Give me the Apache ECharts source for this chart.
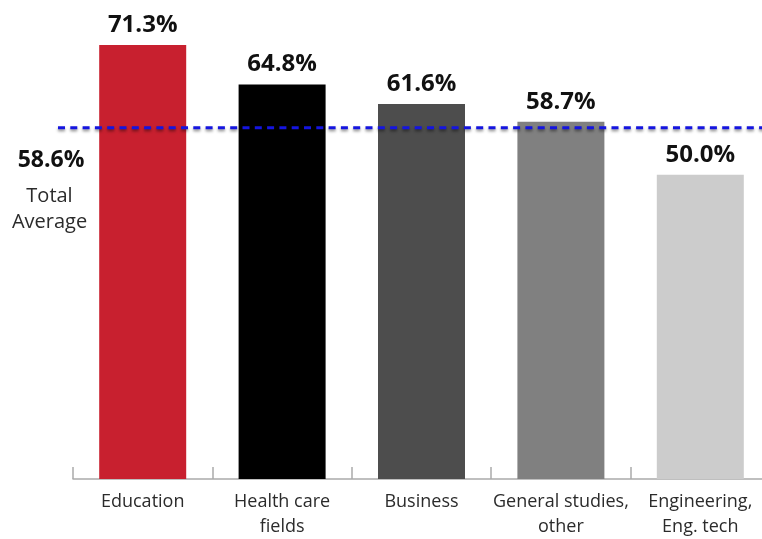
<!DOCTYPE html>
<html>
<head>
<meta charset="utf-8">
<script src="https://cdn.jsdelivr.net/npm/echarts@6/dist/echarts.min.js"></script>
<style>
  html, body { margin: 0; padding: 0; background: #ffffff; overflow: hidden; }
  #chart { width: 772px; height: 539px; }
</style>
</head>
<body>
<div id="chart"></div>
<script>
// ---- data ----
const categories = ['Education', 'Health care\nfields', 'Business', 'General studies,\nother', 'Engineering,\nEng. tech'];
const values = [71.3, 64.8, 61.6, 58.7, 50.0];
const barColors = ['#c8202f', '#000000', '#4d4d4d', '#808080', '#cccccc'];
const averageLabel = '58.6%';
const averageCaption = ['Total', 'Average'];
// level at which the dashed average line is drawn in the reference
const averageLineLevel = 57.7;

const chart = echarts.init(document.getElementById('chart'), null, { renderer: 'canvas' });

const fontFamily = '"Open Sans", "DejaVu Sans", sans-serif';

chart.setOption({
  animation: false,
  backgroundColor: '#ffffff',
  grid: { left: 73, right: 2, top: 22.5, bottom: 60, containLabel: false },
  xAxis: {
    type: 'category',
    data: categories,
    axisLine: { show: true, lineStyle: { color: '#aaaaaa', width: 1.5 } },
    axisTick: { show: true, inside: true, length: 12, lineStyle: { color: '#aaaaaa', width: 1.5 } },
    axisLabel: {
      interval: 0,
      margin: 10,
      color: '#2b2b2b',
      fontFamily: fontFamily,
      fontSize: 18,
      lineHeight: 25,
      align: 'center'
    },
    splitLine: { show: false }
  },
  yAxis: {
    type: 'value',
    min: 0,
    max: 75,
    show: false,
    splitLine: { show: false }
  },
  series: [{
    type: 'bar',
    barWidth: 87,
    data: values.map((v, i) => ({ value: v, itemStyle: { color: barColors[i] } })),
    label: {
      show: true,
      position: 'top',
      distance: 8,
      formatter: p => p.value.toFixed(1) + '%',
      fontFamily: fontFamily,
      fontWeight: 'bold',
      fontSize: 24,
      color: '#111111'
    }
  }]
});

const lineY = chart.convertToPixel({ yAxisIndex: 0 }, averageLineLevel);

chart.setOption({
  graphic: [
    {
      type: 'line',
      shape: { x1: 58, y1: lineY, x2: 772, y2: lineY },
      style: {
        stroke: '#1515e0',
        lineWidth: 3,
        lineDash: [7, 5.3],
        shadowColor: 'rgba(0,0,0,0.45)',
        shadowBlur: 3,
        shadowOffsetY: 2
      },
      z: 100
    },
    {
      type: 'text',
      x: 51,
      y: 160,
      style: {
        text: averageLabel,
        font: 'bold 23px ' + fontFamily,
        fill: '#111111',
        align: 'center',
        verticalAlign: 'middle'
      }
    },
    {
      type: 'text',
      x: 49.5,
      y: 196,
      style: {
        text: averageCaption[0],
        font: '20px ' + fontFamily,
        fill: '#2b2b2b',
        align: 'center',
        verticalAlign: 'middle'
      }
    },
    {
      type: 'text',
      x: 49.5,
      y: 222,
      style: {
        text: averageCaption[1],
        font: '20px ' + fontFamily,
        fill: '#2b2b2b',
        align: 'center',
        verticalAlign: 'middle'
      }
    }
  ]
});
</script>
</body>
</html>
